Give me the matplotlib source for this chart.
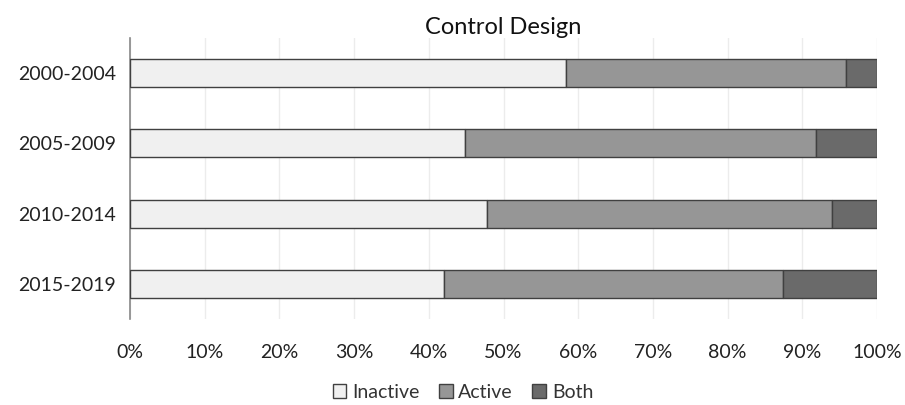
import matplotlib
matplotlib.use("Agg")
import matplotlib.pyplot as plt
import numpy as np
from matplotlib.ticker import FuncFormatter, MultipleLocator

plt.rcParams['font.family'] = ['Lato', 'DejaVu Sans']

periods = ["2000-2004", "2005-2009", "2010-2014", "2015-2019"]
inactive = [58.4, 44.8, 47.8, 42.0]
active = [37.4, 47.0, 46.2, 45.4]
both = [4.2, 8.2, 6.0, 12.6]
series_names = ["Inactive", "Active", "Both"]
colors = ["#f0f0f0", "#969696", "#6a6a6a"]

fig = plt.figure(figsize=(9.05, 4.05), dpi=100)
ax = fig.add_axes([130 / 905, 1 - 319 / 405, 747 / 905, 281 / 405])

y = np.arange(len(periods))
left = np.zeros(len(periods))
for vals, name, col in zip([inactive, active, both], series_names, colors):
    ax.barh(y, vals, left=left, height=0.4, color=col, edgecolor="#404040",
            linewidth=1.0, label=name, zorder=3)
    left += np.array(vals)

ax.set_ylim(3.5, -0.5)
ax.set_xlim(0, 100)
ax.set_yticks(y)
ax.set_yticklabels(periods, fontsize=14, color="#222222")
ax.xaxis.set_major_locator(MultipleLocator(10))
ax.xaxis.set_major_formatter(FuncFormatter(lambda v, p: f"{v:.0f}%"))
ax.tick_params(axis="x", labelsize=14, colors="#222222", length=0, pad=18)
ax.tick_params(axis="y", length=0, pad=10)
ax.grid(axis="x", color="#ececec", linewidth=1, zorder=0)
for s in ["top", "right", "bottom"]:
    ax.spines[s].set_visible(False)
ax.spines["left"].set_color("#888888")
ax.spines["left"].set_linewidth(1.2)

ax.set_title("Control Design", fontsize=17, color="#111111", pad=3)

leg = fig.legend(loc="center", bbox_to_anchor=(463 / 905, 1 - 392 / 405), ncol=3,
                 frameon=False, fontsize=14, handlelength=0.7, handleheight=0.7,
                 handletextpad=0.3, columnspacing=1.0)
for t in leg.get_texts():
    t.set_color("#333333")

fig.savefig("out.png", dpi=100, facecolor="white")
